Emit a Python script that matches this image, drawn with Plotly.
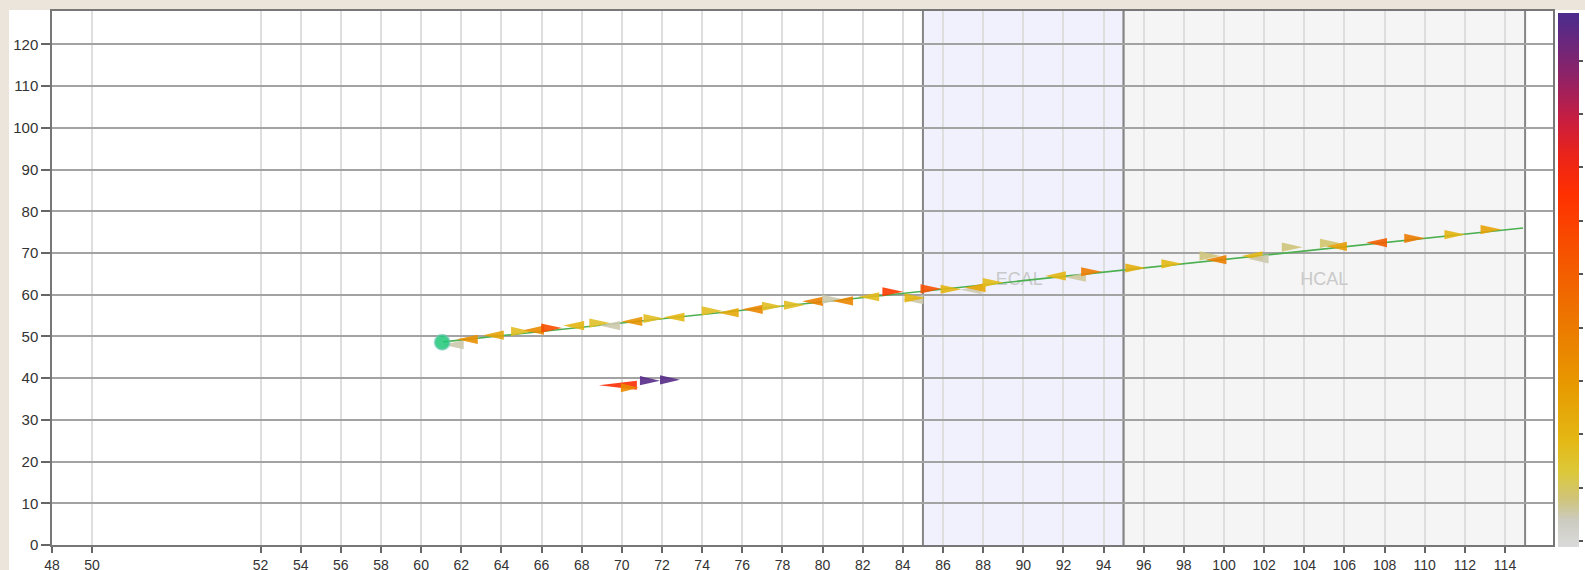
import plotly.graph_objects as go

# ---- Hit deposits along the reconstructed track -------------------------
track_x = [61.6, 62.3, 63.6, 65.0, 65.6, 66.5, 67.6, 68.9, 69.4, 70.5,
           71.6, 72.6, 74.5, 75.3, 76.5, 77.5, 78.6, 79.5, 80.5, 81.0,
           82.3, 83.5, 84.5, 84.6, 85.4, 86.4, 87.4, 87.6, 88.5, 91.6,
           92.6, 93.4, 95.6, 97.4, 99.3, 99.6, 101.4, 101.7, 103.4, 105.3,
           105.6, 107.6, 109.5, 111.5, 113.3]
track_y = [48.0, 49.3, 50.3, 51.2, 51.5, 52.0, 52.6, 53.2, 52.6, 53.6,
           54.3, 54.6, 56.1, 55.7, 56.5, 57.2, 57.5, 58.4, 58.9, 58.5,
           59.5, 60.7, 58.8, 59.2, 61.4, 61.3, 61.2, 61.7, 62.9, 64.5,
           64.2, 65.5, 66.4, 67.4, 69.3, 68.4, 69.3, 68.6, 71.4, 72.3,
           71.6, 72.5, 73.5, 74.4, 75.6]
track_dir = ["L", "L", "L", "R", "L", "R", "L", "R", "L", "L",
             "R", "L", "R", "L", "L", "R", "R", "L", "R", "L",
             "L", "R", "L", "R", "R", "R", "L", "L", "R", "L",
             "L", "R", "R", "R", "R", "L", "L", "L", "R", "R",
             "L", "L", "R", "R", "R"]
track_e = [0.05, 0.33, 0.26, 0.17, 0.34, 0.56, 0.20, 0.16, 0.05, 0.31,
           0.17, 0.19, 0.17, 0.24, 0.36, 0.17, 0.17, 0.38, 0.05, 0.36,
           0.18, 0.62, 0.05, 0.20, 0.55, 0.20, 0.05, 0.25, 0.18, 0.20,
           0.06, 0.40, 0.22, 0.19, 0.08, 0.38, 0.20, 0.05, 0.08, 0.09,
           0.28, 0.50, 0.40, 0.20, 0.26]

# ---- Secondary cluster ---------------------------------------------------
cluster_x = [69.8, 70.4, 71.4, 72.4]
cluster_y = [38.3, 37.7, 39.4, 39.6]
cluster_dir = ["L", "R", "R", "R"]
cluster_e = [0.66, 0.35, 0.97, 0.97]
cluster_len = [1.9, 0.9, 1.0, 1.0]

# ---- Fitted track and vertex --------------------------------------------
line_x = [61.1, 114.9]
line_y = [48.7, 76.0]
vertex_x = [61.05]
vertex_y = [48.6]

# ---- Calorimeter regions -------------------------------------------------
region_names = ["ECAL", "HCAL"]
region_x0 = [85, 95]
region_x1 = [95, 115]
region_label_x = [89.8, 105.0]
region_label_y = [63.4, 63.3]

# ---- Axis ticks -----------------------------------------------------------
x_tick_labels = [48, 50, 52, 54, 56, 58, 60, 62, 64, 66, 68, 70, 72, 74, 76,
                 78, 80, 82, 84, 86, 88, 90, 92, 94, 96, 98, 100, 102, 104,
                 106, 108, 110, 112, 114]
y_tick_labels = [0, 10, 20, 30, 40, 50, 60, 70, 80, 90, 100, 110, 120]

X_RANGE = [41.61, 116.39]
Y_RANGE = [0, 128]
# the two leading labels sit in the compressed stretch at the left edge
compressed_ticks = {48: 41.61, 50: 43.6}
x_tickvals = [compressed_ticks.get(v, v) for v in x_tick_labels]

COLORSCALE = [
    [0.00, "#dadada"], [0.05, "#cccbc0"], [0.09, "#cfc47a"],
    [0.14, "#dcc83a"], [0.20, "#e4b814"], [0.30, "#e79a00"],
    [0.42, "#ec7800"], [0.55, "#f65300"], [0.66, "#ff3000"],
    [0.73, "#ec2418"], [0.80, "#c81e40"], [0.88, "#902266"],
    [1.00, "#4a2c8e"],
]
CMIN, CMAX = -0.01, 0.99


def _hex(c):
    c = c.lstrip("#")
    return tuple(int(c[i:i + 2], 16) for i in (0, 2, 4))


def energy_color(v):
    t = (v - CMIN) / (CMAX - CMIN)
    t = min(max(t, 0.0), 1.0)
    for (p0, c0), (p1, c1) in zip(COLORSCALE[:-1], COLORSCALE[1:]):
        if p0 <= t <= p1:
            f = 0 if p1 == p0 else (t - p0) / (p1 - p0)
            a, b = _hex(c0), _hex(c1)
            r, g, bl = (round(a[i] + (b[i] - a[i]) * f) for i in range(3))
            return f"rgb({r},{g},{bl})"
    return COLORSCALE[-1][1]


def triangle(xc, yc, direction, half_len=0.5, half_h=1.1):
    if direction == "L":
        tip, base = xc - half_len, xc + half_len
    else:
        tip, base = xc + half_len, xc - half_len
    return [tip, base, base, tip], [yc, yc + half_h, yc - half_h, yc]


fig = go.Figure()

# region captions sit underneath the hits
fig.add_trace(go.Scatter(
    x=region_label_x, y=region_label_y, text=region_names, mode="text",
    textfont=dict(family="Liberation Sans, Arial, sans-serif", size=18,
                  color="#c9c9c9"),
    hoverinfo="skip", showlegend=False))

# fitted track
fig.add_trace(go.Scatter(
    x=line_x, y=line_y, mode="lines",
    line=dict(color="#4caf50", width=1.6),
    hoverinfo="skip", showlegend=False))


def add_hits(xs, ys, dirs, es, lens=None):
    for i, (xc, yc, d, e) in enumerate(zip(xs, ys, dirs, es)):
        hl = 0.52 if lens is None else lens[i] / 2
        tx, ty = triangle(xc, yc, d, half_len=hl)
        fig.add_trace(go.Scatter(
            x=tx, y=ty, mode="lines", fill="toself",
            fillcolor=energy_color(e), line=dict(width=0),
            opacity=0.9, hoverinfo="skip", showlegend=False))


add_hits(track_x, track_y, track_dir, track_e)
add_hits(cluster_x, cluster_y, cluster_dir, cluster_e, cluster_len)

# vertex
fig.add_trace(go.Scatter(
    x=vertex_x, y=vertex_y, mode="markers",
    marker=dict(size=15, color="rgba(30,200,120,0.85)",
                line=dict(color="rgba(110,200,180,0.6)", width=2)),
    hoverinfo="skip", showlegend=False))

# energy colour bar, driven by the hit energies
fig.add_trace(go.Scatter(
    x=track_x + cluster_x, y=track_y + cluster_y, mode="markers",
    marker=dict(size=1, opacity=0, color=track_e + cluster_e,
                colorscale=COLORSCALE, cmin=CMIN, cmax=CMAX, showscale=True,
                colorbar=dict(x=1.0033, xanchor="left", xpad=0,
                              y=0.497, yanchor="middle", ypad=0,
                              len=1.0, thickness=21, outlinewidth=0,
                              tick0=0, dtick=0.1, ticks="outside",
                              ticklen=4, tickcolor="#555", tickwidth=1.5,
                              tickfont=dict(size=13, color="#8a6d4a"))),
    hoverinfo="skip", showlegend=False))

# calorimeter bands, each bounded by a darker edge
region_fill = ["#f0f1fd", "#f5f5f5"]
for x0, x1, col in zip(region_x0, region_x1, region_fill):
    fig.add_shape(type="rect", xref="x", yref="paper", x0=x0, x1=x1,
                  y0=0, y1=1, fillcolor=col, layer="below",
                  line=dict(width=0))
    for edge in (x0, x1):
        fig.add_shape(type="line", xref="x", yref="paper", x0=edge, x1=edge,
                      y0=0, y1=1, layer="below",
                      line=dict(color="#858585", width=2))

# page surround
BEIGE = "#ece5db"
fig.add_shape(type="rect", xref="paper", yref="paper", x0=-0.05, x1=-0.02865,
              y0=-0.1, y1=1.05, fillcolor=BEIGE, line=dict(width=0),
              layer="below")
fig.add_shape(type="rect", xref="paper", yref="paper", x0=-0.05, x1=1.05,
              y0=1.00187, y1=1.05, fillcolor=BEIGE, line=dict(width=0),
              layer="below")

axis_font = dict(family="Liberation Sans, Arial, sans-serif", size=15,
                 color="#333")
fig.update_layout(
    width=1585, height=570,
    margin=dict(l=52, r=32, t=11, b=25, pad=0, autoexpand=False),
    paper_bgcolor="white", plot_bgcolor="white",
    showlegend=False, hovermode=False,
    xaxis=dict(range=X_RANGE, tickmode="array", tickvals=x_tickvals,
               ticktext=[str(v) for v in x_tick_labels],
               showgrid=True, gridcolor="#dedede", gridwidth=1.5,
               zeroline=False, showline=True, mirror=True,
               linecolor="#777", linewidth=1.5, automargin=False,
               ticks="outside", ticklen=6, tickcolor="#666", tickwidth=1.5,
               tickfont=dict(family="Liberation Sans, Arial, sans-serif",
                             size=14, color="#333"),
               ticklabelstandoff=0),
    yaxis=dict(range=Y_RANGE, tickmode="array", tickvals=y_tick_labels,
               ticktext=[str(v) for v in y_tick_labels],
               showgrid=True, gridcolor="#a3a3a3", gridwidth=1.5,
               zeroline=False, showline=True, mirror=True,
               linecolor="#777", linewidth=1.5, automargin=False,
               ticks="outside", ticklen=9, tickcolor="#666", tickwidth=1.5,
               tickfont=axis_font),
)

fig.write_html("out.html")
